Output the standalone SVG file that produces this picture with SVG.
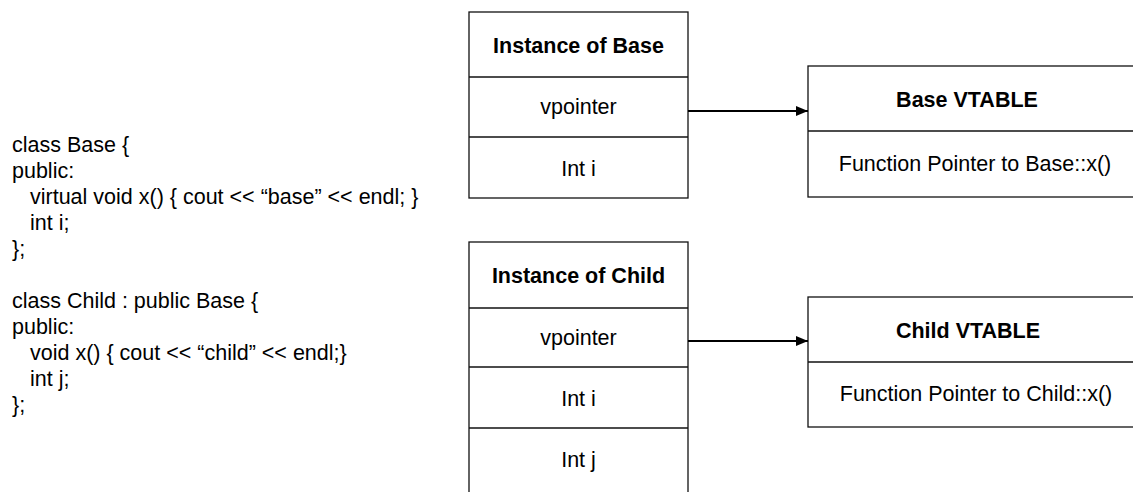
<svg xmlns="http://www.w3.org/2000/svg" width="1133" height="492" viewBox="0 0 1133 492">
  <style>
    .box { fill: #fff; stroke: #111; stroke-width: 1.3; }
    .sep { stroke: #111; stroke-width: 1.3; }
    .code { font-family: "Liberation Sans", Arial, sans-serif; font-size: 21.5px; fill: #000; }
    .lbl { font-family: "Liberation Sans", Arial, sans-serif; font-size: 21.5px; fill: #000; text-anchor: middle; }
    .hdr { font-weight: bold; }
    .conn { stroke: #000; stroke-width: 2; fill: none; }
  </style>
  <defs>
    <marker id="arrow" markerWidth="12" markerHeight="10" refX="12" refY="5" orient="auto" markerUnits="userSpaceOnUse">
      <path d="M0,0 L12,5 L0,10 Z" fill="#000"/>
    </marker>
  </defs>
  <rect width="1133" height="492" fill="#fff"/>

  <!-- C++ source listing -->
  <g id="source">
    <text class="code" x="12" y="152">class Base {</text>
    <text class="code" x="12" y="178">public:</text>
    <text class="code" x="30" y="204">virtual void x() { cout &lt;&lt; “base” &lt;&lt; endl; }</text>
    <text class="code" x="30" y="230">int i;</text>
    <text class="code" x="12" y="256">};</text>
    <text class="code" x="12" y="308">class Child : public Base {</text>
    <text class="code" x="12" y="334">public:</text>
    <text class="code" x="30" y="360">void x() { cout &lt;&lt; “child” &lt;&lt; endl;}</text>
    <text class="code" x="30" y="386">int j;</text>
    <text class="code" x="12" y="412">};</text>
  </g>

  <!-- object layout of a Base instance -->
  <g id="base-instance">
    <rect class="box" x="469" y="12" width="219" height="186"/>
    <line class="sep" x1="469" y1="77" x2="688" y2="77"/>
    <line class="sep" x1="469" y1="137" x2="688" y2="137"/>
    <text class="lbl hdr" x="578.5" y="52.5">Instance of Base</text>
    <text class="lbl" x="578.5" y="114">vpointer</text>
    <text class="lbl" x="578.5" y="176">Int i</text>
  </g>

  <!-- vtable of Base -->
  <g id="base-vtable">
    <rect class="box" x="808" y="66" width="340" height="131"/>
    <line class="sep" x1="808" y1="131" x2="1148" y2="131"/>
    <text class="lbl hdr" x="967" y="106.5">Base VTABLE</text>
    <text class="lbl" x="975" y="170.5">Function Pointer to Base::x()</text>
  </g>

  <!-- object layout of a Child instance -->
  <g id="child-instance">
    <rect class="box" x="469" y="242" width="219" height="260"/>
    <line class="sep" x1="469" y1="308" x2="688" y2="308"/>
    <line class="sep" x1="469" y1="367" x2="688" y2="367"/>
    <line class="sep" x1="469" y1="428" x2="688" y2="428"/>
    <text class="lbl hdr" x="578.5" y="282.5">Instance of Child</text>
    <text class="lbl" x="578.5" y="344.5">vpointer</text>
    <text class="lbl" x="578.5" y="406">Int i</text>
    <text class="lbl" x="578.5" y="467">Int j</text>
  </g>

  <!-- vtable of Child -->
  <g id="child-vtable">
    <rect class="box" x="808" y="297" width="340" height="130"/>
    <line class="sep" x1="808" y1="362" x2="1148" y2="362"/>
    <text class="lbl hdr" x="968" y="337.5">Child VTABLE</text>
    <text class="lbl" x="976" y="401">Function Pointer to Child::x()</text>
  </g>

  <!-- vpointer links -->
  <g id="connectors">
    <line class="conn" x1="688" y1="111" x2="808" y2="111" marker-end="url(#arrow)"/>
    <line class="conn" x1="688" y1="341" x2="808" y2="341" marker-end="url(#arrow)"/>
  </g>
</svg>
